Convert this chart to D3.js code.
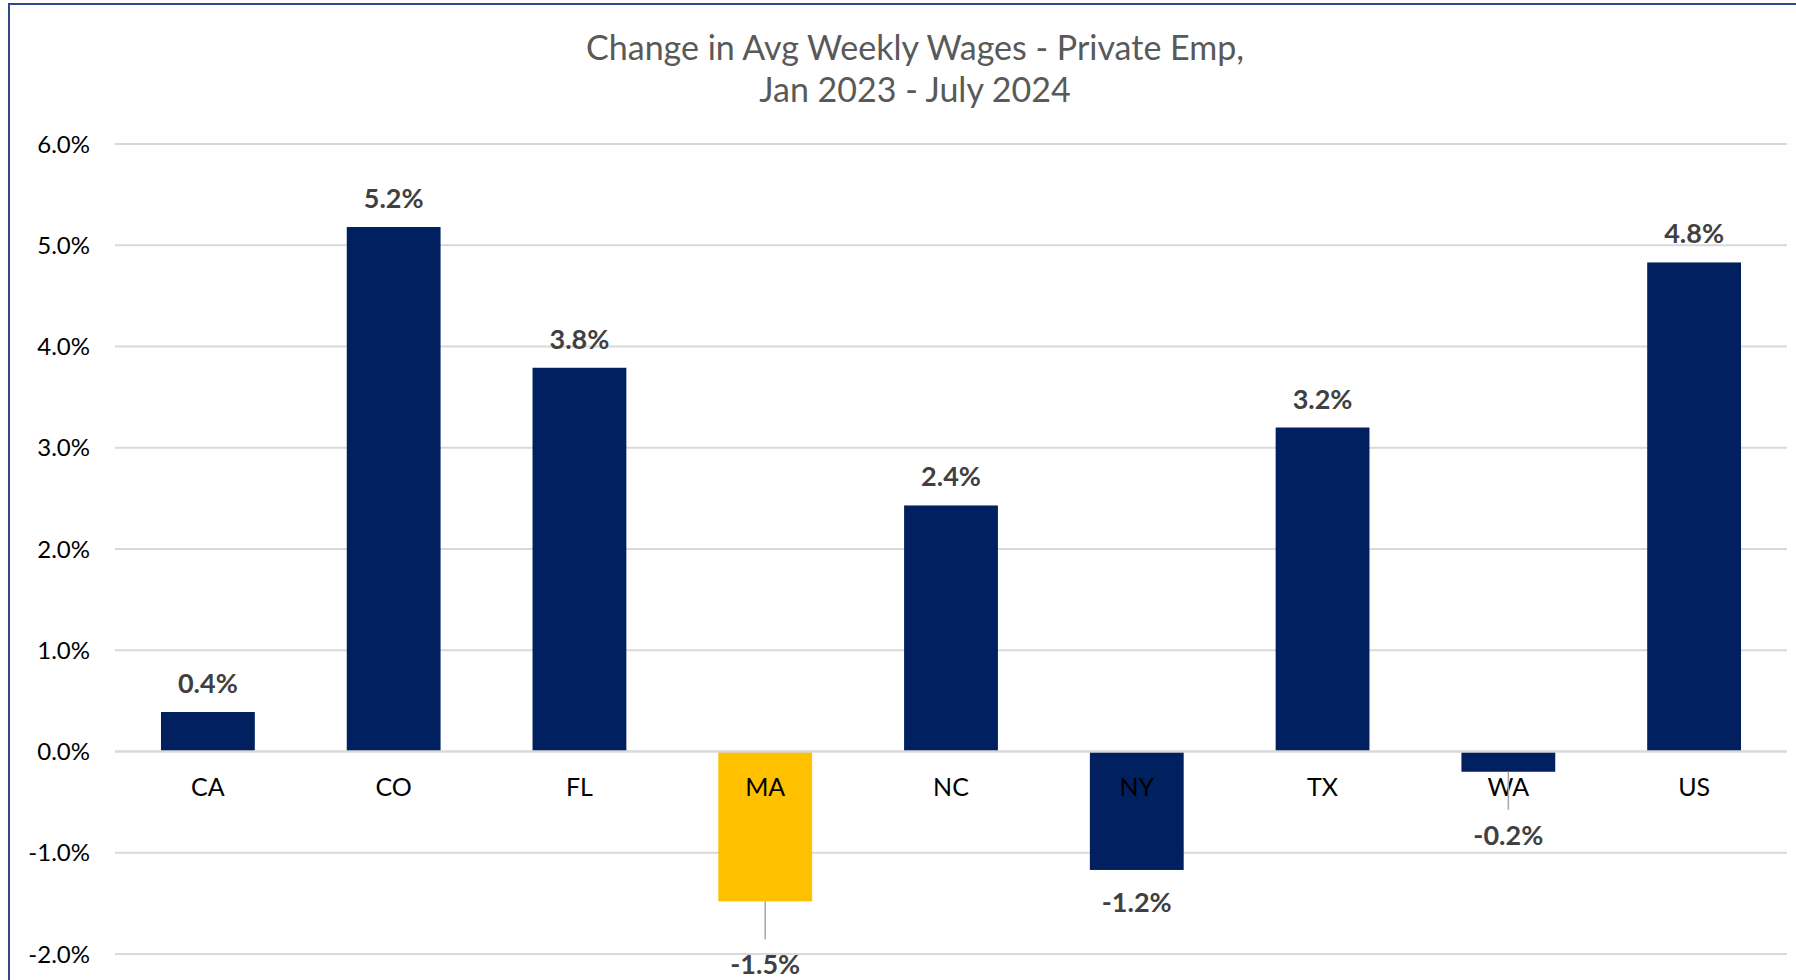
<!DOCTYPE html>
<html lang="en">
<head>
  <meta charset="UTF-8">
  <title>Change in Avg Weekly Wages</title>
  <script src="https://cdn.jsdelivr.net/npm/d3@7"></script>
  <style>
    body { margin: 0; background: #fff; }
    svg text { font-family: Lato, "Open Sans", sans-serif; }
  </style>
</head>
<body>
  <div id="main"></div>
  <script>
    // data
    var states = ["CA", "CO", "FL", "MA", "NC", "NY", "TX", "WA", "US"];
    var change = [0.39, 5.18, 3.79, -1.48, 2.43, -1.17, 3.2, -0.2, 4.83];
    var yTicks = [-2, -1, 0, 1, 2, 3, 4, 5, 6];
    var highlight = ["MA"];          // bar drawn in gold
    var leaderLabels = ["MA", "WA"]; // labels pulled away with a leader line
    var titleLines = ["Change in Avg Weekly Wages - Private Emp,", "Jan 2023 - July 2024"];

    var width = 1796, height = 980;
    // plain hyphen for negatives, like the original
    var pct = d3.formatLocale({ decimal: ".", thousands: ",", grouping: [3], currency: ["", ""], minus: "-" }).format(".1f");

    var svg = d3.select("#main").append("svg")
      .attr("width", width)
      .attr("height", height);

    // chart frame (cut off on the right and bottom)
    svg.append("rect")
      .attr("x", 9).attr("y", 4)
      .attr("width", width + 20).attr("height", height + 20)
      .attr("fill", "#fff")
      .attr("stroke", "#2F4B8A")
      .attr("stroke-width", 2);

    var x = d3.scaleBand()
      .domain(states)
      .range([115, 1787])
      .paddingInner(0.495)
      .paddingOuter(0.2475);

    var y = d3.scaleLinear()
      .domain([-2, 6])
      .range([954, 144]);

    // title
    svg.append("text")
      .attr("x", 915).attr("y", 60)
      .attr("text-anchor", "middle")
      .attr("fill", "#595959")
      .style("font-size", "34px")
      .selectAll("tspan").data(titleLines).enter().append("tspan")
      .attr("x", 915)
      .attr("dy", function (d, i) { return i == 0 ? 0 : 42; })
      .text(function (d) { return d; });

    // gridlines
    svg.append("g").selectAll("line").data(yTicks.filter(function (t) { return t != 0; }))
      .enter().append("line")
      .attr("x1", 115).attr("x2", 1787)
      .attr("y1", function (d) { return y(d); })
      .attr("y2", function (d) { return y(d); })
      .attr("stroke", "#D9D9D9")
      .attr("stroke-width", 2);

    // y tick labels
    svg.append("g").selectAll("text").data(yTicks)
      .enter().append("text")
      .attr("x", 90)
      .attr("y", function (d) { return y(d); })
      .attr("dy", "0.36em")
      .attr("text-anchor", "end")
      .attr("fill", "#000")
      .style("font-size", "24px")
      .text(function (d) { return pct(d) + "%"; });

    var rows = states.map(function (s, i) { return { state: s, value: change[i] }; });

    // bars
    svg.append("g").selectAll("rect").data(rows)
      .enter().append("rect")
      .attr("x", function (d) { return x(d.state); })
      .attr("width", x.bandwidth())
      .attr("y", function (d) { return y(Math.max(0, d.value)); })
      .attr("height", function (d) { return Math.abs(y(d.value) - y(0)); })
      .attr("fill", function (d) { return highlight.indexOf(d.state) >= 0 ? "#FFC000" : "#002060"; });

    // zero line on top of the bars
    svg.append("line")
      .attr("x1", 115).attr("x2", 1787)
      .attr("y1", y(0)).attr("y2", y(0))
      .attr("stroke", "#D9D9D9")
      .attr("stroke-width", 2.5);

    // category labels
    svg.append("g").selectAll("text").data(states)
      .enter().append("text")
      .attr("x", function (d) { return x(d) + x.bandwidth() / 2; })
      .attr("y", 796)
      .attr("text-anchor", "middle")
      .attr("fill", "#000")
      .style("font-size", "25px")
      .text(function (d) { return d; });

    // leader lines
    svg.append("g").selectAll("line").data(rows.filter(function (d) { return leaderLabels.indexOf(d.state) >= 0; }))
      .enter().append("line")
      .attr("x1", function (d) { return x(d.state) + x.bandwidth() / 2; })
      .attr("x2", function (d) { return x(d.state) + x.bandwidth() / 2; })
      .attr("y1", function (d) { return y(d.value); })
      .attr("y2", function (d) { return y(d.value) + 38; })
      .attr("stroke", "#A6A6A6")
      .attr("stroke-width", 1.5);

    // data labels
    svg.append("g").selectAll("text").data(rows)
      .enter().append("text")
      .attr("x", function (d) { return x(d.state) + x.bandwidth() / 2; })
      .attr("y", function (d) {
        if (d.value >= 0) return y(d.value) - 19;
        if (leaderLabels.indexOf(d.state) >= 0) return y(d.value) + 73;
        return y(d.value) + 42;
      })
      .attr("text-anchor", "middle")
      .attr("fill", "#404040")
      .style("font-size", "27px")
      .style("font-weight", "bold")
      .text(function (d) { return pct(d.value) + "%"; });
  </script>
</body>
</html>
